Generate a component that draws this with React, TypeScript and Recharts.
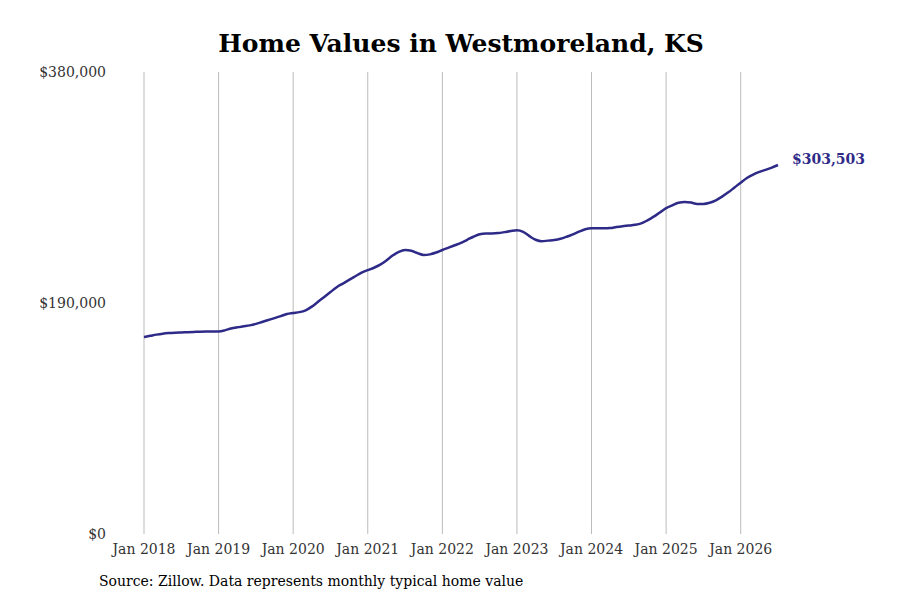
import { LineChart, Line, XAxis, YAxis, ReferenceLine } from 'recharts';

const years = [2018, 2019, 2020, 2021, 2022, 2023, 2024, 2025, 2026];
const monthNames = ['Jan', 'Feb', 'Mar', 'Apr', 'May', 'Jun', 'Jul', 'Aug', 'Sep', 'Oct', 'Nov', 'Dec'];

const values = [
  162000, 163000, 164000, 164800, 165300, 165600, 165800, 166000, 166200, 166400, 166500, 166500,
  166600, 167500, 169000, 170000, 170800, 171600, 172800, 174400, 176000, 177600, 179200, 181000,
  181800, 182500, 184000, 187000, 191000, 195000, 199000, 203000, 206000, 209000, 212000, 215000,
  217000, 219000, 221500, 225000, 229000, 232000, 233500, 233000, 231000, 229500, 230000, 231500,
  233600, 235500, 237500, 239500, 242000, 244500, 246500, 247200, 247200, 247500, 248300, 249200,
  249800, 248500, 245000, 242000, 240800, 241300, 241800, 242800, 244500, 246500, 248700, 250600,
  251400, 251500, 251400, 251600, 252500, 253200, 253700, 254300, 255500, 258000, 261000, 264500,
  268000, 270300, 272500, 273000, 272600, 271500, 271500, 272500, 274500, 277500, 281000, 285000,
  289000, 292800, 295600, 297800, 299500, 301300, 303503,
];

const yTicks = [0, 190000, 380000];
const xTicks = years.map((y) => `Jan ${y}`);

const data = values.map((v, i) => ({
  month: `${monthNames[i % 12]} ${years[0] + Math.floor(i / 12)}`,
  value: v,
}));

const font = 'DejaVu Serif';
const navy = '#2e2a87';

const fmt = (v: number) => '$' + v.toLocaleString('en-US');

export default function App() {
  return (
    <div style={{ position: 'absolute', top: 0, left: 0, width: 900, height: 600, background: '#fff', fontFamily: font }}>
      <div style={{ position: 'absolute', top: 29, left: 0, width: 922, textAlign: 'center', fontSize: 25, fontWeight: 'bold' }}>
        Home Values in Westmoreland, KS
      </div>
      <LineChart width={900} height={600} data={data} margin={{ top: 72, right: 122, bottom: 36, left: 44 }}>
        {xTicks.map((t) => (
          <ReferenceLine key={t} x={t} stroke="#bbbbbb" />
        ))}
        <XAxis
          dataKey="month"
          ticks={xTicks}
          interval={0}
          axisLine={false}
          tickLine={false}
          tickMargin={4}
          tick={{ fontSize: 14, fill: '#333', fontFamily: font }}
        />
        <YAxis
          width={100}
          domain={[0, 380000]}
          ticks={yTicks}
          axisLine={false}
          tickLine={false}
          tickFormatter={fmt}
          tick={{ fontSize: 14, fill: '#333', fontFamily: font, dx: -30 }}
        />
        <Line
          dataKey="value"
          stroke={navy}
          strokeWidth={2.5}
          dot={false}
          type="monotone"
          isAnimationActive={false}
          label={(p: any) =>
            p.index === values.length - 1 ? (
              <text key="end" x={p.x + 14} y={p.y} dy={-1} fill={navy} fontSize={14} fontWeight="bold" fontFamily={font}>
                {fmt(values[values.length - 1])}
              </text>
            ) : null
          }
        />
      </LineChart>
      <div style={{ position: 'absolute', top: 573, left: 99, fontSize: 14 }}>
        Source: Zillow. Data represents monthly typical home value
      </div>
    </div>
  );
}
